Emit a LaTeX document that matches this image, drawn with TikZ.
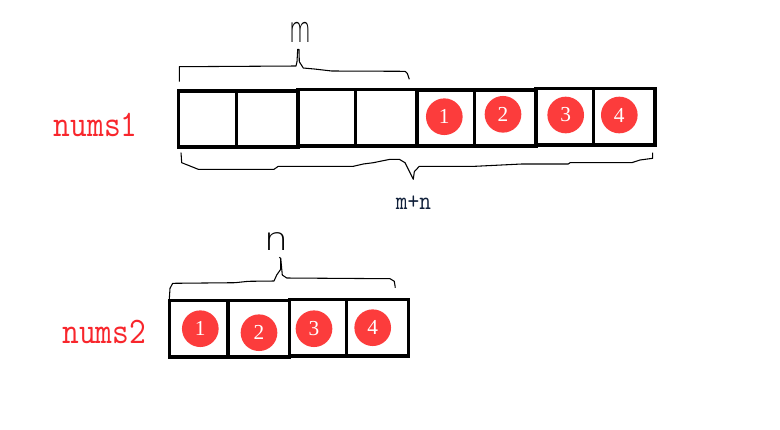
\documentclass[tikz,border=0pt]{standalone}
\usepackage{fontspec}
\setmainfont{Liberation Serif}
\setmonofont{Latin Modern Mono}
\newfontfamily\thinfont{DejaVu Sans ExtraLight}
\definecolor{dotred}{HTML}{FC3C3C}
\definecolor{labred}{HTML}{F8262C}
\definecolor{labnavy}{HTML}{10203A}
\tikzset{
  cellbox/.style={draw=black,line width=2.5pt,rectangle,inner sep=0pt,outer sep=0pt},
  numdot/.style={circle,fill=dotred,text=white,inner sep=0pt,minimum size=27.5pt,font=\fontsize{16}{16}\selectfont},
  arrname/.style={text=labred,inner sep=0pt,anchor=base west,yscale=1.15,font=\ttfamily\fontsize{24.4}{25}\selectfont},
  bracepath/.style={draw=black,line width=0.8pt,line join=round},
  handtext/.style={inner sep=0pt,text=black}
}
\newcommand{\cell}[6]{% name, x1,y1,x2,y2
  \node[cellbox,minimum width={(#4-#2)*0.75pt},minimum height={(#5-#3)*0.75pt}] (#1) at ({(#2+#4)/2},{(#3+#5)/2}) {};}
\begin{document}
\begin{tikzpicture}[x=0.75pt,y=-0.75pt]
\useasboundingbox (0,0) rectangle (780,429);
\fill[white] (0,0) rectangle (780,429);
% nums1 cells
\cell{a1}{178.5}{91}{236.5}{147}{}
\cell{a2}{236.5}{91}{298}{147}{}
\cell{a3}{298}{89.5}{355.5}{146}{}
\cell{a4}{355.5}{89.5}{417}{146}{}
\cell{a5}{417}{90}{474.5}{146}{}
\cell{a6}{474.5}{90}{536}{146}{}
\cell{a7}{536}{88.5}{593.5}{145}{}
\cell{a8}{593.5}{88.5}{655}{145}{}
% nums2 cells
\cell{b1}{169.5}{300.5}{228}{357}{}
\cell{b2}{228}{300.5}{289.5}{357}{}
\cell{b3}{289.5}{299.5}{346.5}{356}{}
\cell{b4}{346.5}{299.5}{408.5}{356}{}
% discs
\node[numdot] (c1) at (444.3,116.7) {1};
\node[numdot] (c2) at (503,114.3) {2};
\node[numdot] (c3) at (565.7,115) {3};
\node[numdot] (c4) at (619.3,115) {4};
\node[numdot] (d1) at (200.3,328.7) {1};
\node[numdot] (d2) at (259,332.7) {2};
\node[numdot] (d3) at (314,328.7) {3};
\node[numdot] (d4) at (372.7,327.7) {4};
% labels
\node[arrname] (l1) at (53.5,136) {nums1};
\node[arrname] (l2) at (62,343) {nums2};
\node[inner sep=0pt,anchor=base,text=labnavy,yscale=1.15,font=\ttfamily\fontsize{17}{17}\selectfont] (l3) at (413.5,209) {m+n};
\node[handtext,anchor=base,xscale=0.62,font=\thinfont\fontsize{27}{27}\selectfont] (l4) at (300.5,42) {m};
\node[handtext,anchor=base,xscale=1.2,font=\thinfont\fontsize{24}{24}\selectfont] (l5) at (276,250) {n};
% braces
\draw[bracepath] (179.3,81.7) -- (179.3,66.7) -- (296,66) -- (297,61.7) -- (297.7,49.3) -- (299,49.3) -- (299.3,61.7) -- (303.3,68) -- (314.3,69) -- (331.7,71) -- (405,71.3) -- (407.3,73.3) -- (409.3,79.3);
\draw[bracepath] (181,152.7) -- (181.7,162.7) -- (186.7,164.7) -- (198.3,169.3) -- (274,169.3) -- (278.3,166.3) -- (353.3,166.3) -- (363.3,164) -- (373.3,162.7) -- (390,159.3) -- (399.3,159.3) -- (405,162.7) -- (413.3,179.3) -- (414.3,171.7) -- (419.3,166.3) -- (475,166.3) -- (521.7,164) -- (568.3,164) -- (570,162.7) -- (631.7,162.7) -- (640,160) -- (652.7,158.3) -- (652.7,152.7);
\draw[bracepath] (169.3,299.3) -- (170,288.3) -- (172.7,283.3) -- (235,282.7) -- (248.3,281.3) -- (274,281) -- (276.7,275) -- (280.7,269.3) -- (280.7,258.3) -- (279.3,257.3);
\draw[bracepath] (280.7,258.3) -- (282.3,275) -- (286.7,278) -- (390,278.7) -- (394.3,281.3) -- (395.3,287.7);
\end{tikzpicture}
\end{document}
